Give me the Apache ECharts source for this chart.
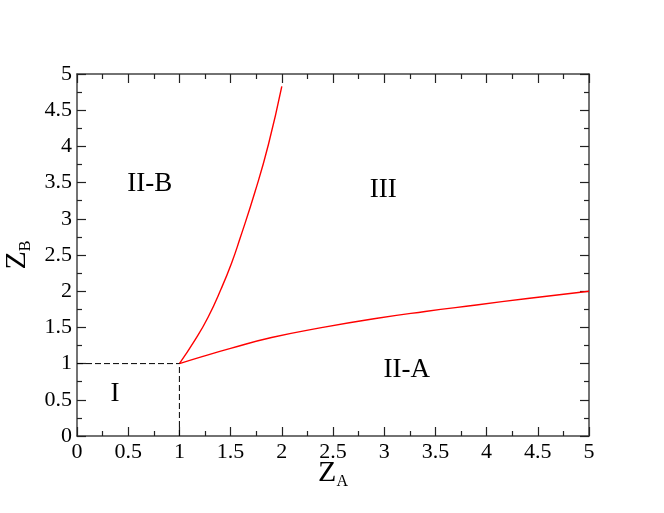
<!DOCTYPE html>
<html>
<head>
<meta charset="utf-8">
<script src="https://cdn.jsdelivr.net/npm/echarts@6/dist/echarts.min.js"></script>
<style>
  html, body { margin: 0; padding: 0; background: #fff; }
  #phaseChart { width: 664px; height: 513px; }
</style>
</head>
<body>
<div id="phaseChart"></div>
<script>
// boundary II-B / III
const boundaryB = [
  [1, 1], [1.15, 1.32], [1.28, 1.64], [1.41, 2.04], [1.51, 2.39],
  [1.59, 2.72], [1.74, 3.38], [1.87, 4.03], [2.0, 4.83]
]
// boundary II-A / III
const boundaryA = [
  [1, 1], [1.23, 1.1], [1.5, 1.21], [1.9, 1.36], [2.4, 1.5],
  [2.9, 1.62], [3.4, 1.72], [3.9, 1.81], [4.4, 1.9], [5, 2.0]
]
// region I limits (dashed)
const dashH = [[0, 1], [1, 1]]
const dashV = [[1, 0], [1, 1]]
// region labels
const regionLabels = [
  { name: 'II-B', value: [0.71, 3.48] },
  { name: 'III', value: [2.99, 3.4] },
  { name: 'II-A', value: [3.22, 0.91] },
  { name: 'I', value: [0.37, 0.58] }
]
const tickMin = 0
const tickMax = 5
const tickStep = 0.5

const serif = 'Liberation Serif'
const frameColor = '#444'

function baseAxis (extra) {
  return Object.assign({
    type: 'value',
    min: tickMin,
    max: tickMax,
    interval: tickStep,
    axisLine: { show: true, onZero: false, lineStyle: { color: frameColor, width: 1.5 } },
    axisTick: { show: true, inside: true, length: 9, lineStyle: { color: '#222', width: 1.2 } },
    minorTick: { show: true, splitNumber: 2, length: 5, lineStyle: { color: '#222', width: 1.2 } },
    splitLine: { show: false },
    axisLabel: {
      show: true,
      color: '#000',
      fontFamily: serif,
      fontSize: 22,
      margin: 5,
      formatter: v => String(v)
    }
  }, extra)
}

const nameRich = {
  z: { fontFamily: serif, fontSize: 30, color: '#000' },
  s: { fontFamily: serif, fontSize: 16, color: '#000', padding: [18, 0, 0, 0] }
}

const myChart = echarts.init(document.getElementById('phaseChart'))
const option = {
  backgroundColor: '#fff',
  animation: false,
  grid: { left: 77, right: 75, top: 74, bottom: 77, outerBoundsMode: 'none', containLabel: false },
  xAxis: [
    baseAxis({
      position: 'bottom',
      name: '{z|Z}{s|A}',
      nameLocation: 'middle',
      nameGap: 20,
      nameMoveOverlap: false,
      nameTextStyle: { fontFamily: serif, color: '#000', rich: nameRich }
    }),
    baseAxis({ position: 'top', axisLabel: { show: false } })
  ],
  yAxis: [
    baseAxis({
      position: 'left',
      name: '{z|Z}{s|B}',
      nameLocation: 'middle',
      nameRotate: 90,
      nameGap: 43,
      nameMoveOverlap: false,
      nameTextStyle: { fontFamily: serif, color: '#000', rich: nameRich }
    }),
    baseAxis({ position: 'right', axisLabel: { show: false } })
  ],
  series: [
    {
      type: 'line',
      data: boundaryB,
      smooth: 0.5,
      showSymbol: false,
      lineStyle: { color: '#ff0000', width: 1.4 }
    },
    {
      type: 'line',
      data: boundaryA,
      smooth: 0.5,
      showSymbol: false,
      lineStyle: { color: '#ff0000', width: 1.4 }
    },
    {
      type: 'line',
      data: dashH,
      showSymbol: false,
      lineStyle: { color: '#000', width: 1, type: [6, 3] }
    },
    {
      type: 'line',
      data: dashV,
      showSymbol: false,
      lineStyle: { color: '#000', width: 1, type: [6, 3] }
    },
    {
      type: 'scatter',
      data: regionLabels,
      symbolSize: 1,
      itemStyle: { color: 'transparent', opacity: 1 },
      label: {
        show: true,
        position: 'inside',
        formatter: p => p.name,
        fontFamily: serif,
        fontSize: 27,
        color: '#000',
        opacity: 1,
        textBorderWidth: 0
      }
    }
  ]
}
myChart.setOption(option, true)
</script>
</body>
</html>
